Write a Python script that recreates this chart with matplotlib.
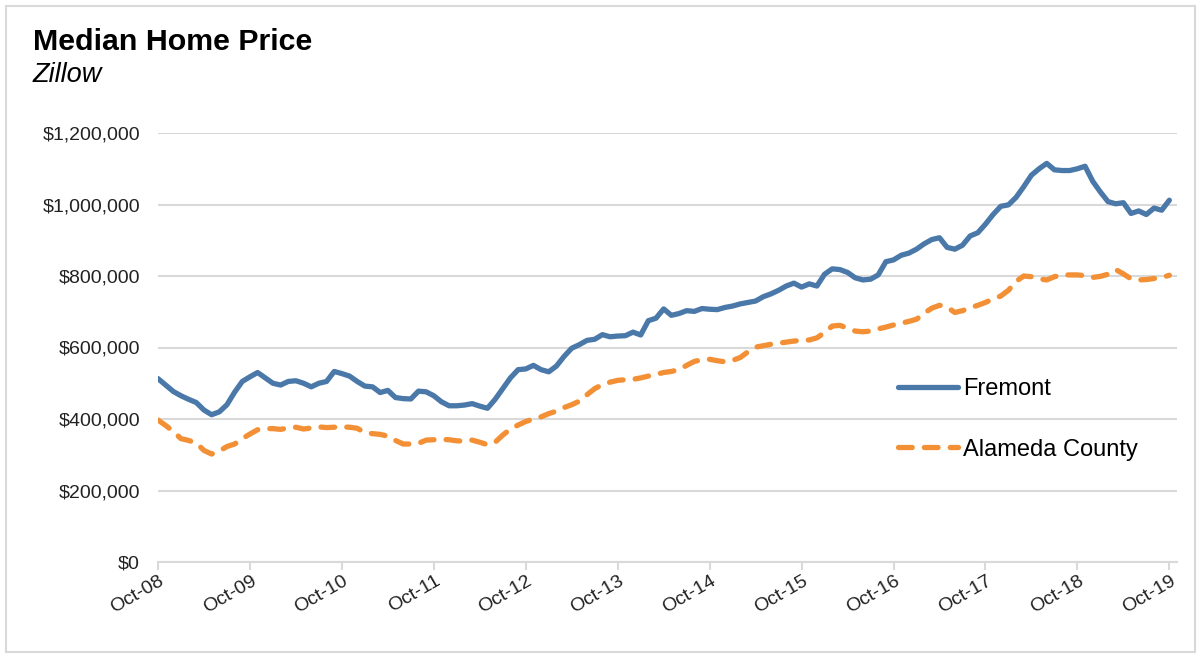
import numpy as np
import matplotlib
matplotlib.use('Agg')
import matplotlib.pyplot as plt
from matplotlib.ticker import FuncFormatter
from matplotlib.patches import Rectangle
import matplotlib.transforms as mtransforms

plt.rcParams['font.family'] = ['Liberation Sans', 'DejaVu Sans']

# Precio mediano mensual (miles de $), Oct-08 .. Oct-19
fremont = [513, 495, 477, 465, 455, 446, 425, 412, 420, 440, 475, 505,
           518, 530, 515, 500, 495, 505, 507, 500, 490, 500, 505, 533,
           527, 520, 505, 492, 490, 474, 480, 460, 457, 456, 478, 476,
           465, 448, 437, 437, 439, 443, 436, 430, 455, 485, 515, 538,
           540, 550, 538, 532, 548, 575, 598, 608, 620, 623, 636, 630,
           632, 633, 643, 635, 675, 682, 708, 690, 695, 703, 701, 709,
           707, 706, 712, 716, 722, 726, 730, 742, 750, 760, 772, 780,
           769, 778, 772, 805, 820, 818, 810, 795, 789, 791, 803, 840,
           845, 858, 864, 875, 890, 902, 907, 880, 875, 886, 912, 921,
           945, 972, 995, 999, 1020, 1050, 1082, 1100, 1115, 1097, 1095, 1095,
           1100, 1107, 1065, 1035, 1008, 1002, 1005, 975, 982, 972, 990, 984,
           1012]

alameda = [397, 382, 365, 345, 340, 333, 312, 302, 310, 323, 330, 345,
           358, 370, 373, 373, 371, 375, 377, 372, 375, 378, 376, 377,
           378, 377, 374, 362, 359, 357, 352, 340, 330, 330, 332, 341,
           342, 343, 342, 339, 338, 341, 335, 328, 335, 355, 372, 383,
           393, 400, 406, 415, 422, 432, 440, 450, 468, 485, 496, 503,
           508, 510, 511, 515, 520, 525, 530, 533, 538, 550, 561, 566,
           567, 563, 560, 564, 572, 588, 601, 605, 609, 612, 615, 618,
           620, 621, 627, 642, 660, 662, 654, 646, 644, 646, 652, 657,
           663, 668, 673, 679, 696, 710, 718, 713, 698, 703, 711, 718,
           726, 736, 744, 760, 785, 800, 798, 792, 789, 798, 803, 803,
           803, 801, 796, 799, 805, 818, 806, 792, 789, 790, 793, 796,
           802]

tick_labels = ['Oct-08', 'Oct-09', 'Oct-10', 'Oct-11', 'Oct-12', 'Oct-13',
               'Oct-14', 'Oct-15', 'Oct-16', 'Oct-17', 'Oct-18', 'Oct-19']

meses = np.arange(len(fremont))
fre = np.array(fremont) * 1000
ala = np.array(alameda) * 1000

W, H = 1201, 658
fig = plt.figure(figsize=(W / 100, H / 100), dpi=100)
ax = fig.add_axes([158 / W, 1 - 562 / H, 1019 / W, 429 / H])

gris = '#d9d9d9'
azul = '#4a78a8'
naranja = '#f39035'

ax.plot(meses, fre, color=azul, lw=3.8, solid_capstyle='round',
        solid_joinstyle='round', label='Fremont', zorder=3)
ax.plot(meses, ala, color=naranja, lw=3.8, dashes=(2.6, 2.3),
        dash_capstyle='round', label='Alameda County', zorder=3)

ax.set_xlim(0, 133)
ax.set_ylim(0, 1200000)
ax.set_yticks(np.arange(0, 1200001, 200000))
ax.yaxis.set_major_formatter(FuncFormatter(lambda v, p: '${:,.0f}'.format(v)))
ax.grid(axis='y', color=gris, lw=1.5)
ax.set_axisbelow(True)

# etiquetas del eje x, rotadas y corridas un poco a la derecha
xt = np.arange(0, 133, 12)
ax.set_xticks(xt)
ax.set_xticklabels([])
trans = mtransforms.blended_transform_factory(ax.transData, ax.transAxes)
trans = trans + mtransforms.ScaledTranslation(5 / 100, -18 / 100, fig.dpi_scale_trans)
for pos, lab in zip(xt, tick_labels):
    ax.text(pos, 0, lab, transform=trans, rotation=30, ha='right', va='center',
            rotation_mode='anchor', fontsize=14, color='#222222')

for s in ['top', 'right', 'left']:
    ax.spines[s].set_visible(False)
ax.spines['bottom'].set_color(gris)
ax.spines['bottom'].set_linewidth(1.5)
ax.tick_params(axis='y', length=0, pad=13, labelsize=14, labelcolor='#222222')
ax.tick_params(axis='x', length=6, width=1.5, color=gris)

ax.legend(loc='upper left', bbox_to_anchor=(886 / W, 1 - 366 / H),
          bbox_transform=fig.transFigure, frameon=False, fontsize=17,
          borderpad=0, handlelength=2.55, handletextpad=0.2,
          labelspacing=1.65)

fig.text(33 / W, 1 - 50 / H, 'Median Home Price', fontsize=21.9,
         fontweight='bold', va='baseline')
fig.text(33 / W, 1 - 81.5 / H, 'Zillow', fontsize=19.5, style='italic',
         va='baseline')

fig.patches.append(Rectangle((6 / W, 6 / H), 1 - 12 / W, 1 - 12 / H,
                             transform=fig.transFigure, fill=False,
                             edgecolor=gris, lw=1.5))

fig.savefig('out.png', dpi=100)
